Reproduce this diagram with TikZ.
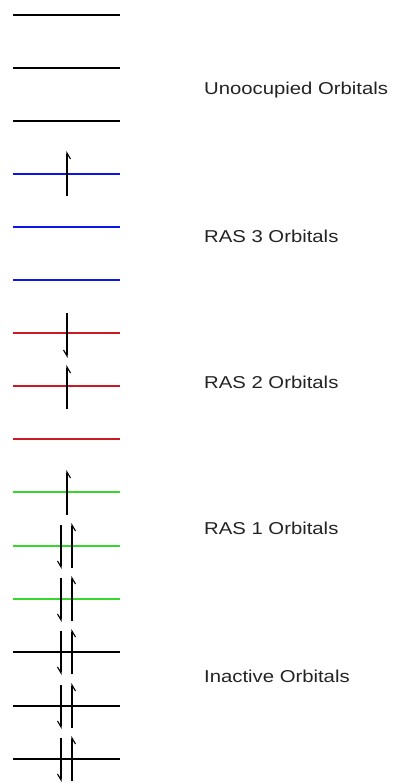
\documentclass[tikz,border=0pt]{standalone}
\usepackage{graphicx}
\usepackage{fontspec}
\setmainfont{Liberation Sans}
\usepackage{tikz}
\usetikzlibrary{arrows.meta}
\definecolor{rasblue}{RGB}{10,20,235}
\definecolor{rasred}{RGB}{205,25,35}
\definecolor{rasgreen}{RGB}{55,215,45}
\definecolor{labelgray}{RGB}{35,35,35}

\begin{document}
\begin{tikzpicture}[x=1pt, y=-1pt,
  orbital/.style={line width=1.6pt},
  up/.style={-{Straight Barb[harpoon,swap,length=6pt,width=7pt]}, line width=1.1pt},
  down/.style={-{Straight Barb[harpoon,swap,length=6pt,width=7pt]}, line width=1.1pt},
  orblabel/.style={anchor=base west, inner sep=0pt, text=labelgray,
    font=\fontsize{17.2}{20}\selectfont}
]
  \useasboundingbox (0,0) rectangle (395,784);

  % Unoccupied
  \draw[orbital, black] (13,15) -- (120,15);
  \draw[orbital, black] (13,68) -- (120,68);
  \draw[orbital, black] (13,121) -- (120,121);

  % RAS 3
  \draw[orbital, rasblue] (13,174) -- (120,174);
  \draw[orbital, rasblue] (13,227) -- (120,227);
  \draw[orbital, rasblue] (13,280) -- (120,280);

  % RAS 2
  \draw[orbital, rasred] (13,333) -- (120,333);
  \draw[orbital, rasred] (13,386) -- (120,386);
  \draw[orbital, rasred] (13,439) -- (120,439);

  % RAS 1
  \draw[orbital, rasgreen] (13,492) -- (120,492);
  \draw[orbital, rasgreen] (13,546) -- (120,546);
  \draw[orbital, rasgreen] (13,599) -- (120,599);

  % Inactive
  \draw[orbital, black] (13,652) -- (120,652);
  \draw[orbital, black] (13,706) -- (120,706);
  \draw[orbital, black] (13,759) -- (120,759);

  % Single electrons
  \draw[up] (67,196) -- (67,151);
  \draw[down] (67,313) -- (67,358);
  \draw[up] (67,409) -- (67,365);
  \draw[up] (67,515) -- (67,470);

  % Electron pairs
  \draw[down] (61,525) -- (61,569);
  \draw[up] (72,568) -- (72,523);
  \draw[down] (61,578) -- (61,622);
  \draw[up] (72,621) -- (72,576);
  \draw[down] (61,631) -- (61,675);
  \draw[up] (72,674) -- (72,629);
  \draw[down] (61,685) -- (61,729);
  \draw[up] (72,728) -- (72,683);
  \draw[down] (61,738) -- (61,782);
  \draw[up] (72,781) -- (72,736);

  % Labels
  \node[orblabel] (unocc) at (204,94) {\scalebox{1.18}[1]{Unoocupied Orbitals}};
  \node[orblabel] (ras3) at (204,242) {\scalebox{1.18}[1]{RAS 3 Orbitals}};
  \node[orblabel] (ras2) at (204,388) {\scalebox{1.18}[1]{RAS 2 Orbitals}};
  \node[orblabel] (ras1) at (204,534) {\scalebox{1.18}[1]{RAS 1 Orbitals}};
  \node[orblabel] (inact) at (204,682) {\scalebox{1.18}[1]{Inactive Orbitals}};
\end{tikzpicture}
\end{document}
